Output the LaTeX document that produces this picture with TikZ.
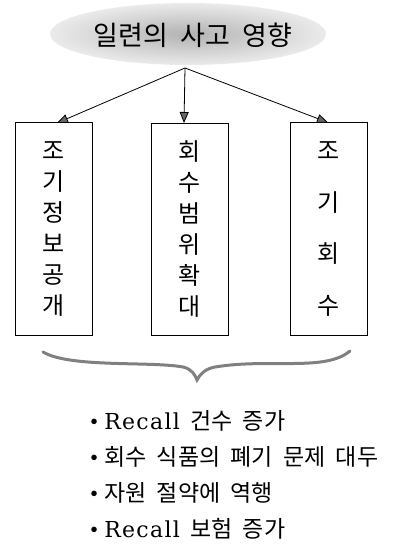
\documentclass[tikz,border=0pt]{standalone}
\usepackage{fontspec}
\newfontfamily\kr[WordSpace=2]{Noto Sans CJK KR}
\newfontfamily\lat[LetterSpace=6]{DejaVu Serif}
\newfontfamily\dotfont{Liberation Serif}
\usetikzlibrary{arrows.meta,shapes.geometric}
\begin{document}
\begin{tikzpicture}[x=1pt,y=-1pt,
  boxstyle/.style={draw, line width=1pt, minimum width=77pt, minimum height=212pt, inner sep=0pt, align=center},
  conn/.style={line width=0.8pt, -{Triangle[length=11pt,width=9pt,fill=black!60]}},
  bul/.style={anchor=west, inner sep=0pt, font=\fontsize{23}{26}\selectfont},
  brace/.style={draw=black!50, line width=3pt, line cap=round}]
\useasboundingbox (0,0) rectangle (397,553);
% title cloud
\node[ellipse, inner color=black!30, outer color=black!8, minimum width=276pt, minimum height=62pt, inner sep=0pt] (cloud) at (188,34) {};
\node[inner sep=0pt, font=\kr\fontsize{27}{27}\selectfont] (title) at (193,35) {일련의 사고 영향};
\coordinate (apex) at (185,68);
% boxes
\node[boxstyle, font=\kr\fontsize{24}{31}\selectfont] (b1) at (53.5,229) {조\\기\\정\\보\\공\\개};
\node[boxstyle, font=\kr\fontsize{24}{31}\selectfont] (b2) at (190,229.5) {회\\수\\범\\위\\확\\대};
\node[boxstyle, font=\kr\fontsize{24}{51.7}\selectfont] (b3) at (328.5,229) {조\\기\\회\\수};
% arrows
\coordinate (t1) at (57,123);
\coordinate (t2) at (184,123);
\coordinate (t3) at (328,122.5);
\draw[conn] (apex) -- (t1);
\draw[conn] (apex) -- (t2);
\draw[conn] (apex) -- (t3);
% brace
\draw[brace] (43,352) .. controls (70,368) and (150,361) .. (183,367)
  .. controls (192,369) and (195,375) .. (197,380)
  .. controls (200,374) and (205,369) .. (215,367)
  .. controls (270,358) and (325,372) .. (350,351);
% bullet list
\newcommand{\bdot}{{\dotfont\raisebox{0.5pt}{•}}\hspace{6pt}}
\node[bul] (l1) at (90,421) {\bdot{\lat\fontsize{22}{26}\selectfont Recall}{\kr\ 건수 증가}};
\node[bul] (l2) at (90,457) {\bdot{\kr 회수 식품의 폐기 문제 대두}};
\node[bul] (l3) at (90,493) {\bdot{\kr 자원 절약에 역행}};
\node[bul] (l4) at (90,529) {\bdot{\lat\fontsize{22}{26}\selectfont Recall}{\kr\ 보험 증가}};
\end{tikzpicture}
\end{document}
